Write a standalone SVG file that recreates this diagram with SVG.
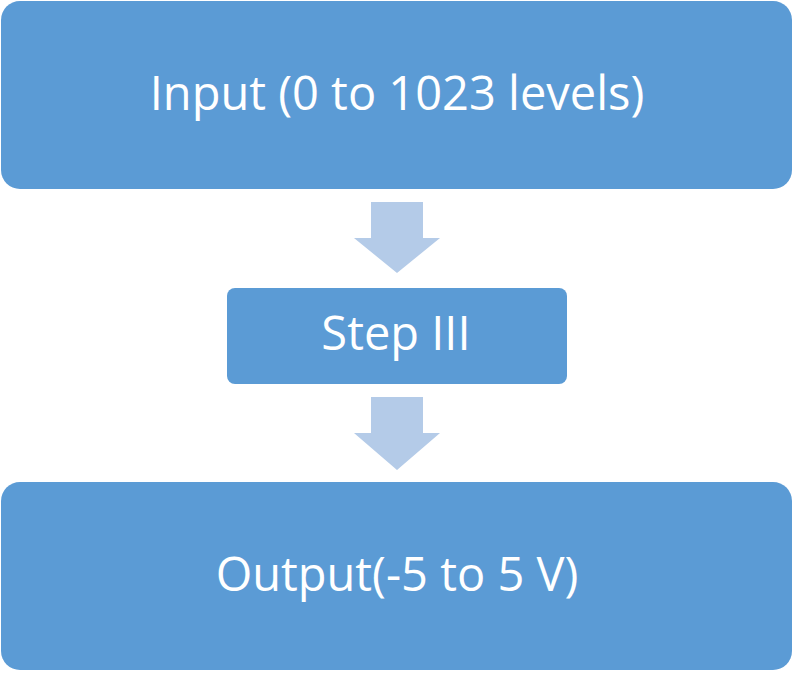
<svg xmlns="http://www.w3.org/2000/svg" width="793" height="673" viewBox="0 0 793 673">
<style>
.box{fill:#5B9BD5}
.arr{fill:#B4CBE8}
.t{fill:#fff;font-family:"Open Sans","Liberation Sans",sans-serif;font-size:47px;text-anchor:middle}
</style>
<rect width="793" height="673" fill="#fff"/>
<g id="input"><rect class="box" x="1" y="1" width="791" height="188" rx="19"/><text class="t" x="397" y="110">Input (0 to 1023 levels)</text></g>
<g id="step"><rect class="box" x="227" y="288" width="340" height="96" rx="8"/><text class="t" x="396" y="350">Step III</text></g>
<g id="output"><rect class="box" x="1" y="482" width="791" height="188" rx="19"/><text class="t" x="397" y="591">Output(-5 to 5 V)</text></g>
<g id="connectors">
<polygon class="arr" points="371,202 423,202 423,238 440,238 397,273 354,238 371,238"/>
<polygon class="arr" points="371,397 423,397 423,433 440,433 397,470 354,433 371,433"/>
</g>
</svg>
